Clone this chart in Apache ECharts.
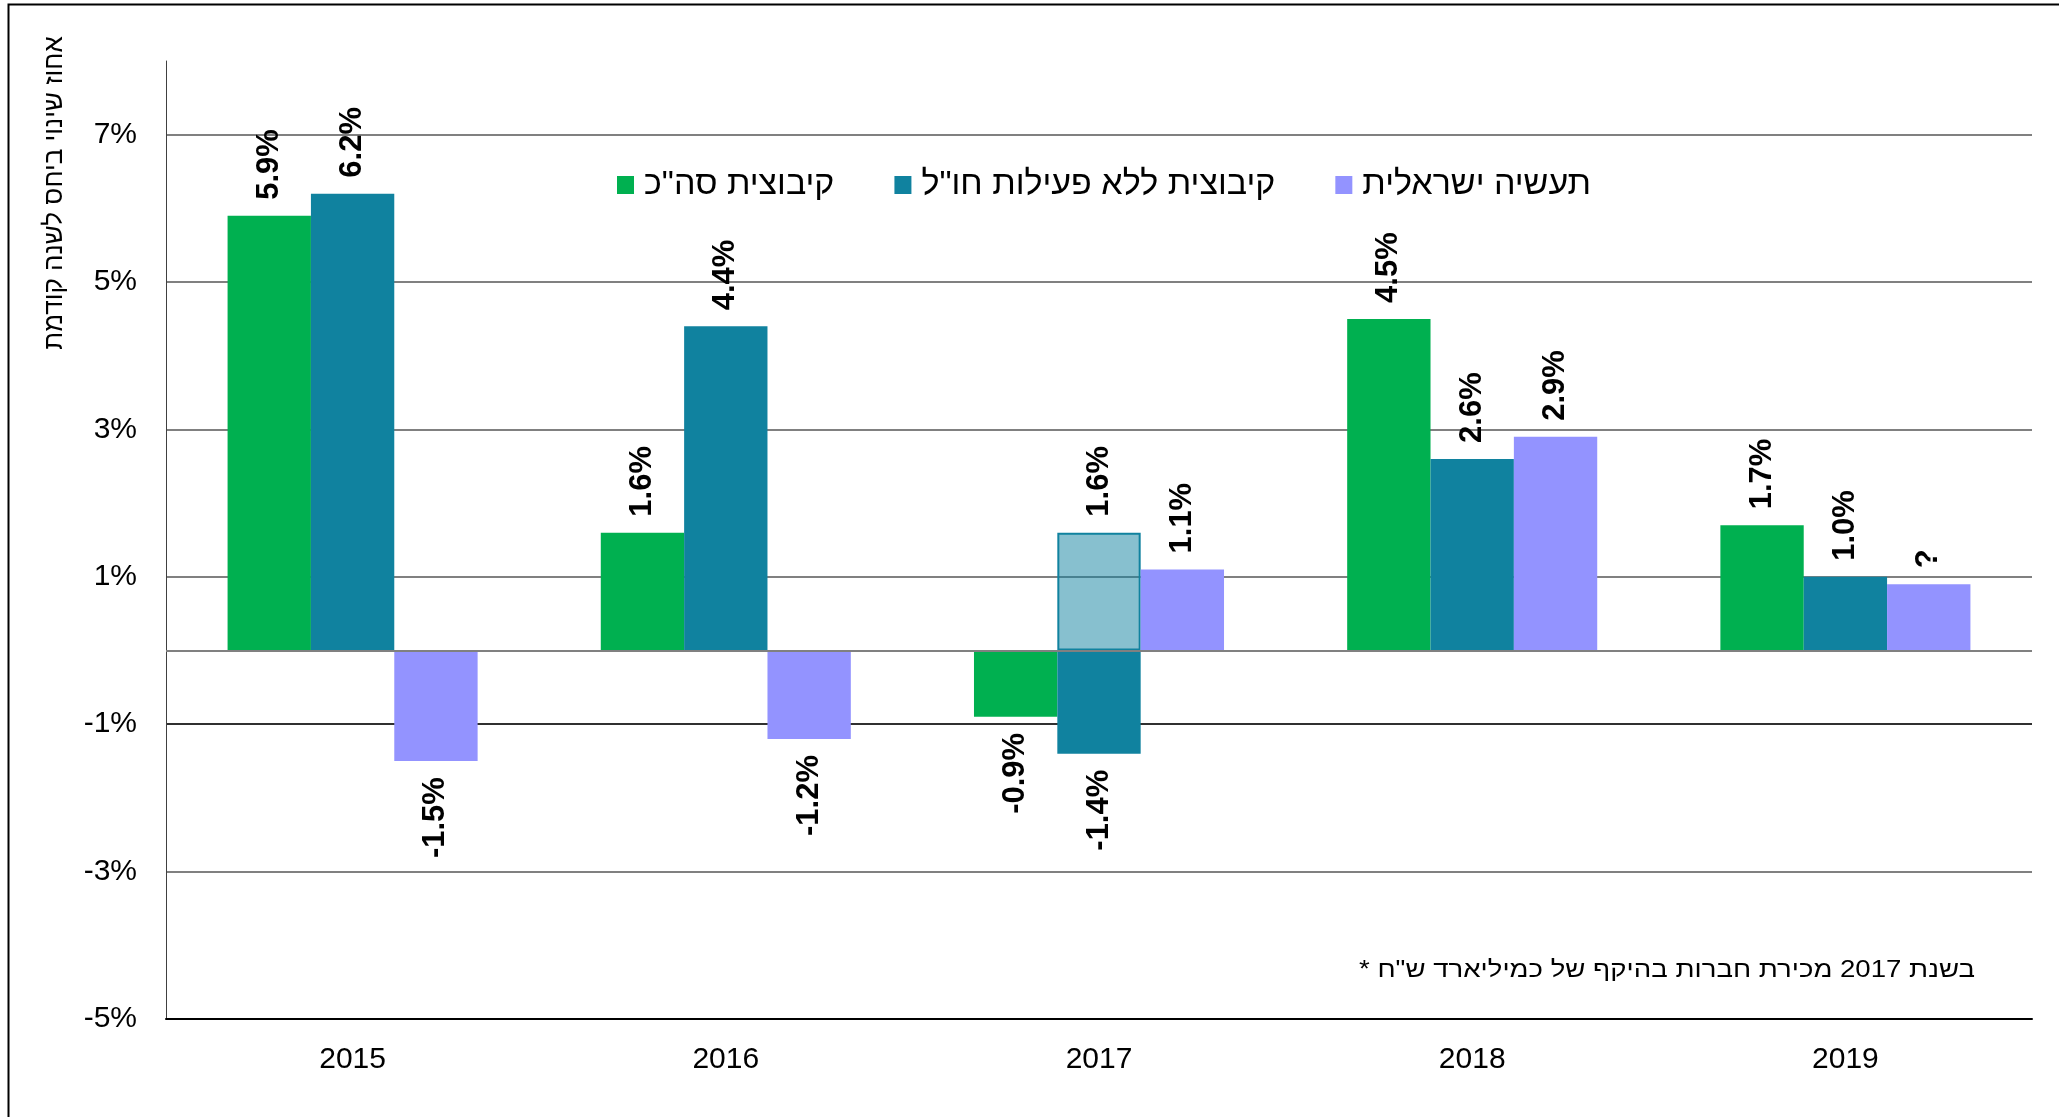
<!DOCTYPE html>
<html>
<head>
<meta charset="utf-8">
<script src="https://cdn.jsdelivr.net/npm/echarts@6/dist/echarts.min.js"></script>
<style>
  html, body { margin: 0; padding: 0; background: #fff; }
  #chart { width: 2059px; height: 1117px; }
</style>
</head>
<body>
<div id="chart"></div>
<script>
const years = ['2015', '2016', '2017', '2018', '2019'];
const seriesNames = ['קיבוצית סה"כ', 'קיבוצית ללא פעילות חו"ל', 'תעשיה ישראלית'];
const kibbutzTotal = [5.9, 1.6, -0.9, 4.5, 1.7];
const kibbutzNoAbroad = [6.2, 4.4, -1.4, 2.6, 1.0];
const kibbutzNoAbroadSale = [null, null, 1.6, null, null];
const israelIndustry = [-1.5, -1.2, 1.1, 2.9, 0.9];
const israelLabelOverride = [null, null, null, null, '?'];
const yTicks = { min: -5, max: 8, interval: 2 };
const yTitle = 'אחוז שינוי ביחס לשנה קודמת';
const footnote = '* בשנת 2017 מכירת חברות בהיקף של כמיליארד ש"ח';

const FONT = 'Liberation Sans, Arial, sans-serif';
const colors = ['#00B050', '#10829F', '#9393FF'];

// rotated bold labels, above positive bars and below negative ones
function points(values, overrides) {
  return values.map((v, i) => {
    if (v === null) return '-';
    const pos = v >= 0;
    const text = overrides && overrides[i] ? overrides[i] : v.toFixed(1) + '%';
    return {
      value: v,
      label: {
        position: pos ? 'top' : 'bottom',
        align: pos ? 'left' : 'right',
        formatter: text
      }
    };
  });
}

const barLabel = {
  show: true,
  rotate: 90,
  verticalAlign: 'middle',
  distance: 16,
  color: '#000',
  fontFamily: FONT,
  fontWeight: 'bold',
  fontSize: 31
};

const chart = echarts.init(document.getElementById('chart'), null, { renderer: 'canvas' });

chart.setOption({
  backgroundColor: '#fff',
  animation: false,
  grid: { left: 166, right: 27, top: 61, bottom: 98 },
  legend: {
    data: seriesNames,
    left: 612,
    top: 163,
    icon: 'rect',
    itemWidth: 17,
    itemHeight: 18,
    itemGap: 60,
    textStyle: { fontFamily: FONT, fontSize: 34, color: '#000', padding: [0, 0, 0, 5] }
  },
  xAxis: {
    type: 'category',
    data: years,
    axisLine: { onZero: false, lineStyle: { color: '#000', width: 2 } },
    axisTick: { show: false },
    axisLabel: { fontFamily: FONT, fontSize: 30, color: '#000', margin: 26 }
  },
  yAxis: {
    type: 'value',
    min: yTicks.min,
    max: yTicks.max,
    interval: yTicks.interval,
    axisLine: { show: true, lineStyle: { color: '#404040', width: 1 } },
    axisTick: { show: false },
    axisLabel: {
      fontFamily: FONT, fontSize: 30, color: '#000', margin: 29,
      showMaxLabel: false,
      formatter: v => v + '%'
    },
    splitLine: {
      show: true,
      showMaxLine: false,
      lineStyle: { color: ['#808080', '#808080', '#303030', '#808080', '#808080', '#808080', '#808080'], width: 2 }
    }
  },
  graphic: [
    {
      type: 'rect',
      shape: { x: 8.5, y: 4.5, width: 2200, height: 1300 },
      style: { fill: 'none', stroke: '#000', lineWidth: 2 },
      silent: true
    },
    {
      type: 'text',
      x: 55,
      y: 193,
      rotation: Math.PI / 2,
      style: {
        text: yTitle, font: '26px ' + FONT, fill: '#000',
        textAlign: 'center', textVerticalAlign: 'middle', align: 'center', verticalAlign: 'middle'
      }
    },
    {
      type: 'text',
      x: 1975,
      y: 971,
      scaleX: 1.2,
      style: {
        text: footnote, font: '23px ' + FONT, fill: '#000',
        textAlign: 'right', textVerticalAlign: 'middle', align: 'right', verticalAlign: 'middle'
      }
    }
  ],
  series: [
    {
      name: seriesNames[0],
      type: 'bar',
      barGap: '0%',
      barCategoryGap: '33%',
      itemStyle: { color: colors[0] },
      label: barLabel,
      data: points(kibbutzTotal),
      markLine: {
        silent: true,
        symbol: 'none',
        label: { show: false },
        lineStyle: { color: '#808080', width: 2, type: 'solid' },
        data: [{ yAxis: 0 }]
      }
    },
    {
      name: seriesNames[1],
      type: 'bar',
      stack: 'noAbroad',
      barGap: '0%',
      barCategoryGap: '33%',
      itemStyle: { color: colors[1] },
      label: barLabel,
      data: points(kibbutzNoAbroad)
    },
    {
      name: 'sale2017',
      type: 'bar',
      stack: 'noAbroad',
      barGap: '0%',
      barCategoryGap: '33%',
      itemStyle: { color: 'rgba(16,130,160,0.5)', borderColor: '#10829F', borderWidth: 2 },
      label: barLabel,
      data: points(kibbutzNoAbroadSale)
    },
    {
      name: seriesNames[2],
      type: 'bar',
      barGap: '0%',
      barCategoryGap: '33%',
      itemStyle: { color: colors[2] },
      label: barLabel,
      data: points(israelIndustry, israelLabelOverride)
    }
  ]
});
</script>
</body>
</html>
